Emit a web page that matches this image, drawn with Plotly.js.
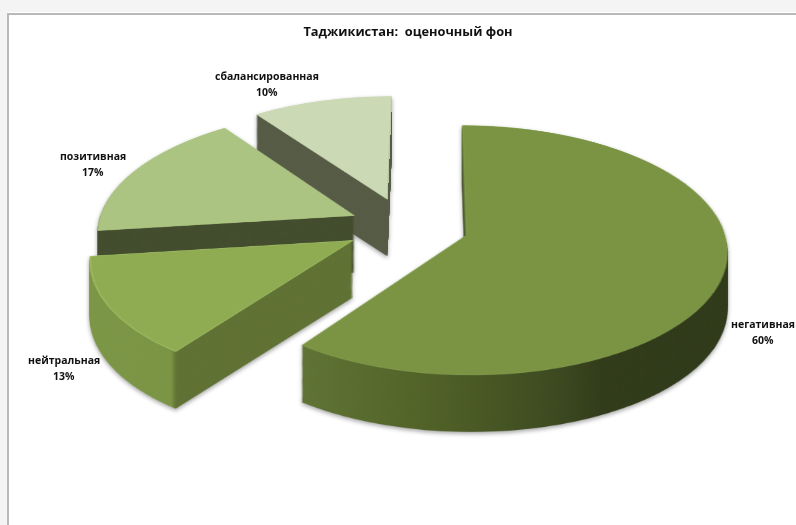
<!DOCTYPE html>
<html><head><meta charset="utf-8">
<script src="https://cdn.plot.ly/plotly-3.0.1.min.js"></script>
<style>html,body{margin:0;padding:0;background:#fff;overflow:hidden}#c{width:796px;height:525px}</style>
</head><body><div id="c"></div>
<script>
const categories = ['негативная','нейтральная','позитивная','сбалансированная'];
const values = [60,13,17,10];
const pulls = [0.25,0.2315,0.219,0.24];
const topColors = ['#7A9444','#8FAC52','#ACC482','#CBD9B5'];
const edgeColors = ['#85A04E','#A8C86C','#ACC482','#CBD9B5'];
const sideColors = ['#4c5c2a','#5F7133','#434D2E','#565B45'];
const labelX = [763,64,93,267];
const labelY = [332,368,164,84];
const chartTitle = 'Таджикистан:  оценочный фон';

const W=796,H=525;
const DEPTH=57, LAYERS=60;
const x0=405, y0=226, A=1.22, B=0.575, C=-0.00056, XC=430;
const labelFont={family:'"Open Sans", "Noto Sans", sans-serif',size:10.5,color:'#111'};

const traces=[];
for(let i=0;i<=LAYERS;i++){
  const top=i===LAYERS;
  traces.push({type:'pie',labels:categories,values:values,pull:pulls,sort:false,direction:'clockwise',rotation:0,
    textinfo:'none',hoverinfo:'skip',showlegend:false,domain:{x:[0,1],y:[0,1]},
    marker:{colors:top?topColors:sideColors,line:{width:top?0.8:0,color:top?edgeColors:'#000'}}});
}
const annotations=[];
categories.forEach((c,i)=>{
  [[c,-7.75],[values[i]+'%',7.75]].forEach(([t,d])=>annotations.push({xref:'paper',yref:'paper',x:labelX[i]/W,y:1-(labelY[i]+d)/H,
    text:'<b>'+t+'</b>',showarrow:false,font:labelFont,align:'center',xanchor:'center',yanchor:'middle'}));
});
const layout={width:W,height:H,margin:{l:0,r:0,t:0,b:0},paper_bgcolor:'rgba(0,0,0,0)',
  title:{text:'<b>'+chartTitle+'</b>',x:408/W,xanchor:'center',y:1-32/H,yanchor:'middle',
    font:{family:'"Open Sans", "Noto Sans", sans-serif',size:12.8,color:'#111'}},
  annotations:annotations,
  shapes:[
    {type:'rect',xref:'paper',yref:'paper',x0:0,x1:1,y0:1-12/H,y1:1,fillcolor:'#f4f4f4',line:{width:0},layer:'below'},
    {type:'rect',xref:'paper',yref:'paper',x0:0,x1:7/W,y0:0,y1:1,fillcolor:'#f4f4f4',line:{width:0},layer:'below'},
    {type:'rect',xref:'paper',yref:'paper',x0:7/W,x1:9/W,y0:0,y1:1-13/H,fillcolor:'#b9b9b9',line:{width:0},layer:'below'},
    {type:'rect',xref:'paper',yref:'paper',x0:7/W,x1:1,y0:1-15/H,y1:1-13/H,fillcolor:'#b9b9b9',line:{width:0},layer:'below'}
  ]};

Plotly.newPlot('c',traces,layout,{staticPlot:true,displayModeBar:false}).then(()=>{
  const host=document.querySelector('#c .svg-container');
  const main=host.querySelector('.main-svg');
  const NS='http://www.w3.org/2000/svg';
  const wrap=document.createElement('div');
  wrap.style.cssText='position:absolute;left:0;top:0;width:'+W+'px;height:'+H+'px;filter:drop-shadow(0 2px 2px rgba(0,0,0,.35))';
  // perspective plane for the pie: pie centre goes to (x0,y0), converging on x=XC
  const uc=(XC-x0)/A, px=W/2+uc, py=H/2, w0=1-C*py;
  const m=[A,0,0,0, XC*C,B+y0*C,0,C, 0,0,1,0, -A*px+XC*w0,-B*py+y0*w0,0,w0];
  const mat='matrix3d('+m.join(',')+')';
  function layerSvg(d){
    const s=document.createElementNS(NS,'svg');
    s.setAttribute('width',W);s.setAttribute('height',H);
    s.style.cssText='position:absolute;left:0;top:0;overflow:visible;transform-origin:0 0';
    s.style.transform='translateY('+d+'px) '+mat;
    wrap.appendChild(s);
    return s;
  }
  const defsSvg=document.createElementNS(NS,'svg');
  defsSvg.setAttribute('width',0);defsSvg.setAttribute('height',0);defsSvg.style.position='absolute';
  const defs=document.createElementNS(NS,'defs');defsSvg.appendChild(defs);wrap.appendChild(defsSvg);
  function grad(id,stops){
    const g=document.createElementNS(NS,'linearGradient');g.setAttribute('id',id);
    stops.forEach(s=>{const e=document.createElementNS(NS,'stop');e.setAttribute('offset',s[0]);e.setAttribute('stop-color',s[1]);g.appendChild(e);});
    defs.appendChild(g);
  }
  grad('g0',[[0,'#5f7335'],[0.25,'#526428'],[0.55,'#3d4a20'],[0.66,'#313b1a'],[1,'#2f3919']]);
  grad('g1',[[0,'#7b9645'],[0.39,'#7a9444'],[0.41,'#5f7133'],[1,'#5f7133']]);
  const ts=Array.from(main.querySelectorAll('.pielayer .trace'));
  ts.forEach((t,i)=>{
    const s=layerSvg((LAYERS-i)/LAYERS*DEPTH);
    s.appendChild(t);
    if(i<LAYERS){
      const p=t.querySelectorAll('path.surface');
      p[0].style.fill='url(#g0)';p[1].style.fill='url(#g1)';
    }
  });
  host.insertBefore(wrap,main);
});
</script></body></html>
